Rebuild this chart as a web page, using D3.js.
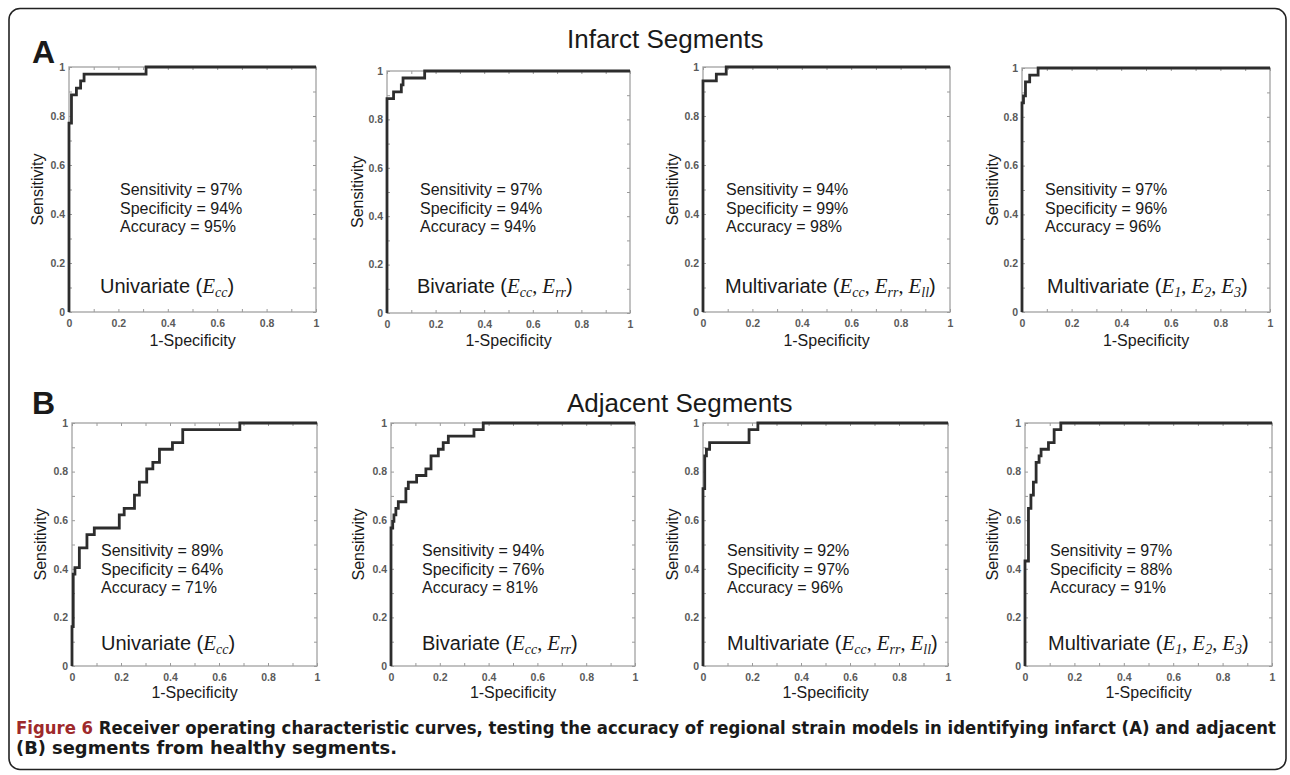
<!DOCTYPE html>
<html><head><meta charset="utf-8">
<script src="https://cdn.jsdelivr.net/npm/d3@7"></script>
<style>body{margin:0;background:#fff;} svg{display:block}</style>
</head><body>
<svg id="c" width="1290" height="775"></svg>
<script>
// ---------------- DATA ----------------
// ROC curves (1-Specificity, Sensitivity), vertices drawn with a step-after curve
const fprA1 = [0, 0, 0.010, 0.030, 0.047, 0.061, 0.312, 1];
const tprA1 = [0, 0.771, 0.886, 0.914, 0.943, 0.971, 1, 1];
const fprA2 = [0, 0, 0.027, 0.059, 0.066, 0.155, 1];
const tprA2 = [0, 0.886, 0.914, 0.943, 0.971, 1, 1];
const fprA3 = [0, 0, 0.054, 0.094, 1];
const tprA3 = [0, 0.943, 0.971, 1, 1];
const fprA4 = [0, 0, 0.006, 0.014, 0.031, 0.065, 1];
const tprA4 = [0, 0.857, 0.886, 0.943, 0.971, 1, 1];
const fprB1 = [0, 0, 0.005, 0.012, 0.030, 0.061, 0.091, 0.193, 0.213, 0.255, 0.275, 0.305, 0.330, 0.357, 0.410, 0.452, 0.685, 1];
const tprB1 = [0, 0.162, 0.378, 0.405, 0.486, 0.541, 0.568, 0.622, 0.649, 0.703, 0.757, 0.811, 0.838, 0.892, 0.919, 0.973, 1, 1];
const fprB2 = [0, 0, 0.007, 0.012, 0.020, 0.030, 0.061, 0.071, 0.105, 0.143, 0.164, 0.194, 0.214, 0.235, 0.340, 0.378, 1];
const tprB2 = [0, 0.568, 0.595, 0.622, 0.649, 0.676, 0.730, 0.757, 0.784, 0.811, 0.865, 0.892, 0.919, 0.946, 0.973, 1, 1];
const fprB3 = [0, 0, 0.007, 0.014, 0.027, 0.188, 0.224, 1];
const tprB3 = [0, 0.730, 0.865, 0.892, 0.919, 0.973, 1, 1];
const fprB4 = [0, 0, 0.014, 0.024, 0.034, 0.045, 0.057, 0.065, 0.095, 0.118, 0.145, 1];
const tprB4 = [0, 0.432, 0.649, 0.703, 0.757, 0.838, 0.865, 0.892, 0.919, 0.973, 1, 1];

const fprAll = [fprA1, fprA2, fprA3, fprA4, fprB1, fprB2, fprB3, fprB4];
const tprAll = [tprA1, tprA2, tprA3, tprA4, tprB1, tprB2, tprB3, tprB4];

const sensitivity = [97, 97, 94, 97, 89, 94, 92, 97];
const specificity = [94, 94, 99, 96, 64, 76, 97, 88];
const accuracy    = [95, 94, 98, 96, 71, 81, 96, 91];

const modelNames = ["Univariate", "Bivariate", "Multivariate", "Multivariate",
                    "Univariate", "Bivariate", "Multivariate", "Multivariate"];
const modelVars = [
  [["E","cc"]], [["E","cc"],["E","rr"]], [["E","cc"],["E","rr"],["E","ll"]], [["E","1"],["E","2"],["E","3"]],
  [["E","cc"]], [["E","cc"],["E","rr"]], [["E","cc"],["E","rr"],["E","ll"]], [["E","1"],["E","2"],["E","3"]]
];

const rowTitles = ["Infarct Segments", "Adjacent Segments"];
const rowLetters = ["A", "B"];
const tickLabels = [0, 0.2, 0.4, 0.6, 0.8, 1];
const minorTicks = [0.1, 0.3, 0.5, 0.7, 0.9];
const xTitle = "1-Specificity";
const yTitle = "Sensitivity";
const captionBold = "Figure 6";
const captionLine1 = " Receiver operating characteristic curves, testing the accuracy of regional strain models in identifying infarct (A) and adjacent";
const captionLine2 = "(B) segments from healthy segments.";

// ---------------- LAYOUT ----------------
const panelBoxes = [
  [69, 67, 316, 312], [387, 71, 630, 313], [703, 67, 950, 312], [1022, 68, 1270, 312],
  [72, 423, 317, 666], [391, 423, 635, 666], [703, 423, 948, 666], [1025, 423, 1272, 666]
];
const statsX = [120, 420, 726, 1045, 101, 422, 727, 1050];
const modelX = [100, 417, 725, 1047, 101, 422, 727, 1048];
const yTitleX = [37, 357, 672, 992, 40, 358, 672, 992];
const rowStatsY = [195, 556];
const rowModelY = [293, 650];
const rowXTitleY = [346, 698];
const rowTitleY = [48, 412];
const rowLetterY = [63, 414];

const SANS = "'Liberation Sans', Arial, Helvetica, sans-serif";
const SERIF = "'Liberation Serif', 'Times New Roman', serif";

const svg = d3.select("#c");

// outer frame
svg.append("rect").attr("x", 9).attr("y", 8.5).attr("width", 1277).attr("height", 761)
  .attr("rx", 11).attr("fill", "none").attr("stroke", "#222").attr("stroke-width", 1.6);

// row titles & letters
rowTitles.forEach((t, r) => {
  svg.append("text").attr("x", 567).attr("y", rowTitleY[r])
    .style("font-family", SANS).style("font-size", "26px").attr("fill", "#1a1a1a").text(t);
  svg.append("text").attr("x", 32).attr("y", rowLetterY[r])
    .style("font-family", SANS).style("font-size", "32px").style("font-weight", "bold")
    .attr("fill", "#1a1a1a").text(rowLetters[r]);
});

panelBoxes.forEach((b, i) => {
  const [x0, y0, x1, y1] = b;
  const row = i < 4 ? 0 : 1;
  const x = d3.scaleLinear().domain([0, 1]).range([x0, x1]);
  const y = d3.scaleLinear().domain([0, 1]).range([y1, y0]);
  const g = svg.append("g");

  // box
  g.append("rect").attr("x", x0).attr("y", y0).attr("width", x1 - x0).attr("height", y1 - y0)
    .attr("fill", "none").attr("stroke", "#a9a9a9").attr("stroke-width", 1.4);

  const fmt = d3.format("~g");
  const styleAxis = sel => {
    sel.select(".domain").remove();
    sel.selectAll(".tick line").attr("stroke", "#9a9a9a").attr("stroke-width", 1);
    sel.selectAll(".tick text").attr("fill", "#5a5a5a")
      .style("font-family", SANS).style("font-size", "10.5px").style("font-weight", "bold");
  };
  // bottom labelled
  g.append("g").attr("transform", `translate(0,${y1})`)
    .call(d3.axisBottom(x).tickValues(tickLabels).tickSizeInner(-3).tickSizeOuter(0).tickPadding(8).tickFormat(fmt))
    .call(styleAxis);
  g.append("g").attr("transform", `translate(0,${y1})`)
    .call(d3.axisBottom(x).tickValues(minorTicks).tickSizeInner(-3).tickSizeOuter(0).tickFormat(""))
    .call(styleAxis);
  // left labelled
  g.append("g").attr("transform", `translate(${x0},0)`)
    .call(d3.axisLeft(y).tickValues(tickLabels).tickSizeInner(-3).tickSizeOuter(0).tickPadding(4).tickFormat(fmt))
    .call(styleAxis);
  g.append("g").attr("transform", `translate(${x0},0)`)
    .call(d3.axisLeft(y).tickValues(minorTicks).tickSizeInner(-3).tickSizeOuter(0).tickFormat(""))
    .call(styleAxis);
  // top & right ticks (inward)
  const allTicks = tickLabels.concat(minorTicks);
  g.append("g").attr("transform", `translate(0,${y0})`)
    .call(d3.axisTop(x).tickValues(allTicks).tickSizeInner(-3).tickSizeOuter(0).tickFormat(""))
    .call(styleAxis);
  g.append("g").attr("transform", `translate(${x1},0)`)
    .call(d3.axisRight(y).tickValues(allTicks).tickSizeInner(-3).tickSizeOuter(0).tickFormat(""))
    .call(styleAxis);

  // ROC curve
  const pts = d3.zip(fprAll[i], tprAll[i]);
  g.append("path").datum(pts)
    .attr("d", d3.line().x(d => x(d[0])).y(d => y(d[1])).curve(d3.curveStepAfter))
    .attr("fill", "none").attr("stroke", "#2d2d2d").attr("stroke-width", 2.8)
    .attr("stroke-linejoin", "miter");

  // axis titles
  g.append("text").attr("x", (x0 + x1) / 2).attr("y", rowXTitleY[row]).attr("text-anchor", "middle")
    .style("font-family", SANS).style("font-size", "16px").attr("fill", "#1a1a1a").text(xTitle);
  g.append("text").attr("transform", `translate(${yTitleX[i]},${(y0 + y1) / 2}) rotate(-90)`)
    .attr("text-anchor", "middle").attr("dy", "0.35em")
    .style("font-family", SANS).style("font-size", "16px").attr("fill", "#1a1a1a").text(yTitle);

  // stats
  const lines = [`Sensitivity = ${sensitivity[i]}%`, `Specificity = ${specificity[i]}%`, `Accuracy = ${accuracy[i]}%`];
  lines.forEach((t, k) => {
    g.append("text").attr("x", statsX[i]).attr("y", rowStatsY[row] + k * 18.7)
      .style("font-family", SANS).style("font-size", "16px").attr("fill", "#1a1a1a").text(t);
  });

  // model label
  const mt = g.append("text").attr("x", modelX[i]).attr("y", rowModelY[row])
    .style("font-family", SANS).style("font-size", "20px").attr("fill", "#1a1a1a");
  mt.append("tspan").text(modelNames[i] + " (");
  modelVars[i].forEach((v, k) => {
    mt.append("tspan").style("font-family", SERIF).style("font-style", "italic").style("font-size", "21px").text(v[0]);
    mt.append("tspan").attr("dy", 4).style("font-family", SERIF).style("font-style", "italic").style("font-size", "14px").text(v[1]);
    const sep = k < modelVars[i].length - 1 ? ", " : ")";
    mt.append("tspan").attr("dy", -4).style("font-family", k < modelVars[i].length - 1 ? SERIF : SANS)
      .style("font-size", "20px").text(sep);
  });
});

// caption
const CAP = "'Liberation Sans Narrow', 'DejaVu Sans Condensed', 'Liberation Sans', sans-serif";
const c1 = svg.append("text").attr("x", 16).attr("y", 734)
  .attr("textLength", 1260).attr("lengthAdjust", "spacingAndGlyphs")
  .style("font-family", CAP).style("font-size", "18px").style("font-weight", "bold").attr("fill", "#1a1a1a");
c1.append("tspan").attr("fill", "#9e2a2b").text(captionBold);
c1.append("tspan").text(captionLine1);
svg.append("text").attr("x", 16).attr("y", 754)
  .attr("textLength", 381).attr("lengthAdjust", "spacingAndGlyphs")
  .style("font-family", CAP).style("font-size", "18px").style("font-weight", "bold").attr("fill", "#1a1a1a")
  .text(captionLine2);
</script>
</body></html>
